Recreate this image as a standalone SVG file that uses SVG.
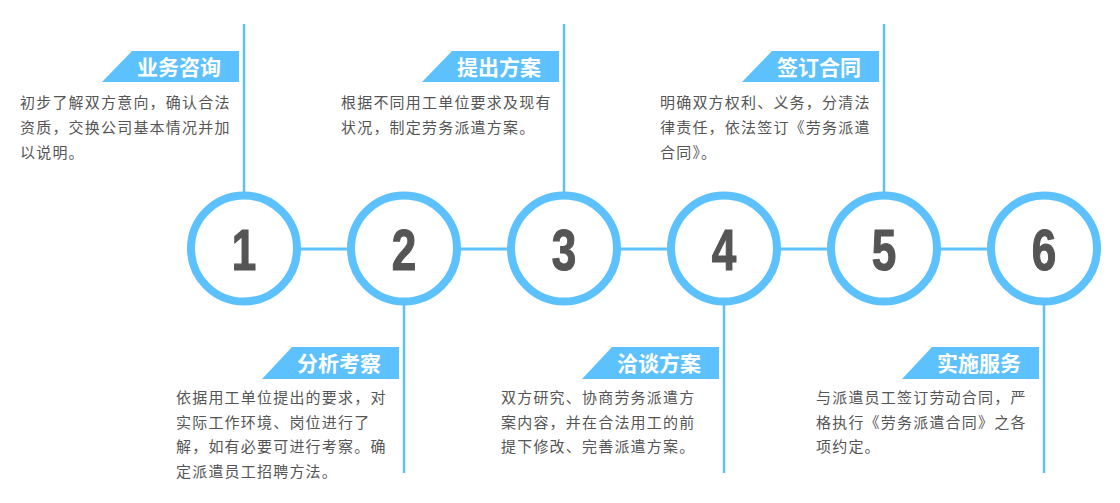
<svg xmlns="http://www.w3.org/2000/svg" width="1120" height="503" viewBox="0 0 1120 503">
<style>
.ln{stroke:#5DC1FD;stroke-width:2.5;fill:none}
.ring{fill:#fff;stroke:#5DC1FD;stroke-width:8}
.num{font-family:"Liberation Sans","Arial",sans-serif;font-weight:bold;font-size:58px;fill:#555;text-anchor:middle;stroke:#555;stroke-width:1.2}
.tag{fill:#5DC1FD}
.tt{font-family:"Noto Sans CJK SC","Noto Sans",sans-serif;font-weight:bold;font-size:21px;fill:#fff;text-anchor:middle}
.d{font-family:"Noto Sans CJK SC","Noto Sans",sans-serif;font-size:15px;letter-spacing:1.2px;fill:#555}
</style>
<rect width="1120" height="503" fill="#fff"/>
<g id="connectors">
<line class="ln" x1="244" y1="249" x2="1044" y2="249" style="stroke-width:3"/>
<line class="ln" x1="244" y1="24" x2="244" y2="195"/>
<line class="ln" x1="564" y1="24" x2="564" y2="195"/>
<line class="ln" x1="884" y1="24" x2="884" y2="195"/>
<line class="ln" x1="404" y1="302" x2="404" y2="473"/>
<line class="ln" x1="724" y1="302" x2="724" y2="473"/>
<line class="ln" x1="1044" y1="302" x2="1044" y2="473"/>
</g>
<g id="node1">
<circle class="ring" cx="244" cy="248.5" r="53"/>
<text class="num" transform="translate(244,270) scale(0.76,1)">1</text>
<polygon class="tag" points="132,51 239,51 239,82 102,82"/>
<text class="tt" x="179" y="75">业务咨询</text>
<text class="d" x="20" y="108">初步了解双方意向，确认合法</text>
<text class="d" x="20" y="133">资质，交换公司基本情况并加</text>
<text class="d" x="20" y="158">以说明。</text>
</g>
<g id="node2">
<circle class="ring" cx="404" cy="248.5" r="53"/>
<text class="num" transform="translate(404,270) scale(0.76,1)">2</text>
<polygon class="tag" points="292,347 399,347 399,379 262,379"/>
<text class="tt" x="339" y="371">分析考察</text>
<text class="d" x="176" y="403">依据用工单位提出的要求，对</text>
<text class="d" x="176" y="427.5">实际工作环境、岗位进行了</text>
<text class="d" x="176" y="452">解，如有必要可进行考察。确</text>
<text class="d" x="176" y="476.5">定派遣员工招聘方法。</text>
</g>
<g id="node3">
<circle class="ring" cx="564" cy="248.5" r="53"/>
<text class="num" transform="translate(564,270) scale(0.76,1)">3</text>
<polygon class="tag" points="452,51 559,51 559,82 422,82"/>
<text class="tt" x="499" y="75">提出方案</text>
<text class="d" x="341" y="108">根据不同用工单位要求及现有</text>
<text class="d" x="341" y="133">状况，制定劳务派遣方案。</text>
</g>
<g id="node4">
<circle class="ring" cx="724" cy="248.5" r="53"/>
<text class="num" transform="translate(724,270) scale(0.76,1)">4</text>
<polygon class="tag" points="612,347 719,347 719,379 582,379"/>
<text class="tt" x="659" y="371">洽谈方案</text>
<text class="d" x="501" y="403">双方研究、协商劳务派遣方</text>
<text class="d" x="501" y="427.5">案内容，并在合法用工的前</text>
<text class="d" x="501" y="452">提下修改、完善派遣方案。</text>
</g>
<g id="node5">
<circle class="ring" cx="884" cy="248.5" r="53"/>
<text class="num" transform="translate(884,270) scale(0.76,1)">5</text>
<polygon class="tag" points="772,51 879,51 879,82 742,82"/>
<text class="tt" x="819" y="75">签订合同</text>
<text class="d" x="660" y="108">明确双方权利、义务，分清法</text>
<text class="d" x="660" y="133">律责任，依法签订《劳务派遣</text>
<text class="d" x="660" y="158">合同》。</text>
</g>
<g id="node6">
<circle class="ring" cx="1044" cy="248.5" r="53"/>
<text class="num" transform="translate(1044,270) scale(0.76,1)">6</text>
<polygon class="tag" points="932,347 1039,347 1039,379 902,379"/>
<text class="tt" x="979" y="371">实施服务</text>
<text class="d" x="816" y="403">与派遣员工签订劳动合同，严</text>
<text class="d" x="816" y="427.5">格执行《劳务派遣合同》之各</text>
<text class="d" x="816" y="452">项约定。</text>
</g>
</svg>
